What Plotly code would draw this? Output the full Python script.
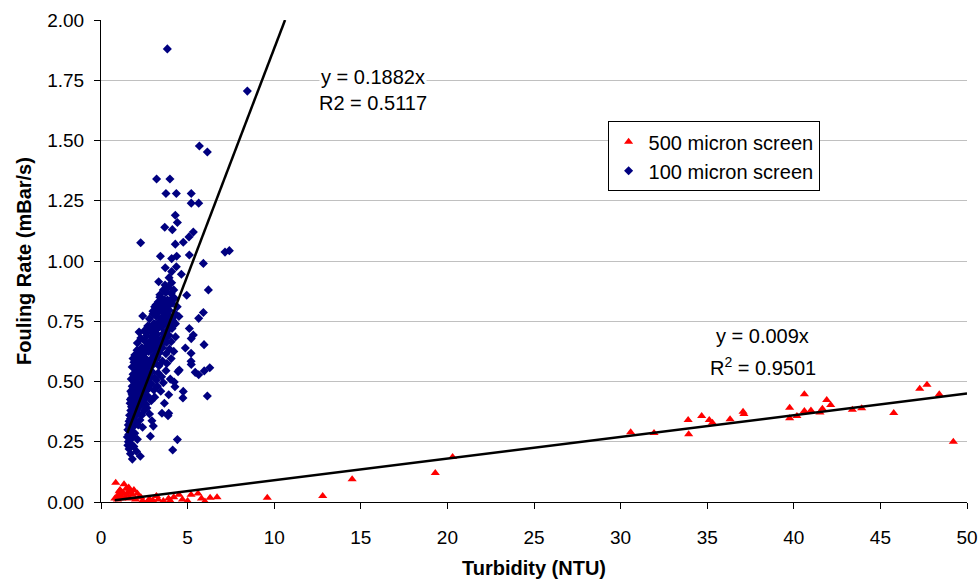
import plotly.graph_objects as go

# ---------------- data ----------------
# 100 micron screen: dense cluster
blue_x = [
    1.62, 1.75, 1.58, 1.90, 2.05, 1.70, 1.55,
    1.52, 1.60, 1.68, 1.78, 1.85, 1.55, 1.95, 2.10, 1.65, 1.72,
    1.58, 1.66, 1.74, 1.82, 1.90, 2.00, 2.15, 1.70, 2.25, 2.40, 1.62,
    1.65, 1.72, 1.80, 1.88, 1.95, 2.05, 2.12, 2.22, 2.35, 2.50, 2.65, 1.76, 2.00, 2.80,
    1.68, 1.75, 1.85, 1.92, 2.00, 2.10, 2.20, 2.30, 2.42, 2.55, 2.70, 2.90, 3.10, 1.80, 2.60, 2.05,
    1.72, 1.80, 1.88, 1.96, 2.05, 2.15, 2.25, 2.35, 2.48, 2.60, 2.75, 2.90, 3.05, 3.25, 3.45, 1.90, 2.40, 3.60,
    1.75, 1.85, 1.95, 2.05, 2.15, 2.25, 2.35, 2.45, 2.55, 2.68, 2.80, 2.95, 3.10, 3.30, 3.50, 3.75, 4.00, 2.00, 2.60, 3.20,
    1.80, 1.90, 2.02, 2.12, 2.22, 2.32, 2.45, 2.58, 2.70, 2.85, 3.00, 3.15, 3.35, 3.55, 3.80, 4.05, 2.40, 3.00, 1.85,
    1.95, 2.08, 2.20, 2.35, 2.48, 2.60, 2.75, 2.90, 3.05, 3.20, 3.38, 3.55, 3.75, 3.95, 4.20, 2.70, 3.30,
    2.10, 2.30, 2.50, 2.65, 2.80, 2.95, 3.10, 3.25, 3.40, 3.55, 3.70, 3.88, 4.05, 4.30, 3.00, 3.60,
    2.50, 2.70, 2.90, 3.05, 3.20, 3.35, 3.50, 3.65, 3.80, 3.95, 4.10, 4.30, 3.40, 2.20,
    2.80, 3.00, 3.20, 3.35, 3.50, 3.65, 3.80, 3.95, 4.10, 4.30, 4.50, 3.60,
    3.10, 3.30, 3.50, 3.65, 3.80, 3.95, 4.10, 4.25, 3.40, 4.40,
    3.40, 3.60, 3.75, 3.90, 4.05, 4.20, 3.70,
    # extra fill of the densest part of the cloud
    1.70, 1.78, 1.86, 1.94, 2.02, 2.10, 2.18, 2.28, 2.38, 2.52, 2.62, 2.76,
    1.92, 2.04, 2.16, 2.26, 2.38, 2.50, 2.62, 2.74, 2.86, 2.98, 3.12, 3.26,
    2.24, 2.40, 2.55, 2.72, 2.88, 3.02, 3.18, 3.32, 3.46, 3.62, 3.78, 3.92,
    2.60, 2.78, 2.95, 3.12, 3.28, 3.44, 3.58, 3.72, 3.86, 4.00, 4.15,
    3.00, 3.18, 3.34, 3.52, 3.70, 3.84, 4.00, 4.18,
    # scattered points around the cluster
    3.83, 8.45, 5.68, 6.14, 3.21, 3.98, 3.75, 4.35, 5.21, 5.21, 5.64, 4.29, 4.41, 3.68,
    4.12, 2.29, 5.33, 5.08, 4.75, 4.29, 3.43, 4.08, 4.37, 5.10, 7.16, 7.41, 5.91, 3.71,
    4.08, 4.35, 3.93, 4.64, 3.33, 4.08, 6.20, 4.95, 5.91, 5.64, 2.41, 5.95, 6.28, 5.96,
    6.14, 4.75, 4.73, 2.85, 2.27, 4.41, 4.14, 1.81, 5.10, 5.21, 5.33, 4.87, 5.20, 5.20,
    5.21, 5.44, 5.64, 4.52, 4.45, 4.23, 4.27, 3.91, 3.91, 3.66, 3.52, 3.87, 3.02, 2.94,
]
blue_y = [
    0.220, 0.240, 0.250, 0.230, 0.210, 0.200, 0.235,
    0.270, 0.280, 0.260, 0.290, 0.270, 0.300, 0.285, 0.260, 0.295, 0.275,
    0.320, 0.310, 0.330, 0.340, 0.315, 0.335, 0.320, 0.345, 0.340, 0.310, 0.335,
    0.360, 0.380, 0.370, 0.390, 0.355, 0.385, 0.370, 0.395, 0.360, 0.380, 0.390, 0.395, 0.400, 0.365,
    0.410, 0.430, 0.420, 0.440, 0.415, 0.435, 0.425, 0.445, 0.410, 0.430, 0.440, 0.420, 0.435, 0.445, 0.405, 0.450,
    0.460, 0.480, 0.470, 0.490, 0.465, 0.485, 0.475, 0.495, 0.460, 0.480, 0.470, 0.490, 0.465, 0.480, 0.460, 0.500, 0.455, 0.495,
    0.510, 0.530, 0.520, 0.540, 0.515, 0.535, 0.525, 0.545, 0.510, 0.530, 0.520, 0.540, 0.515, 0.535, 0.520, 0.545, 0.510, 0.550, 0.548, 0.505,
    0.560, 0.580, 0.570, 0.590, 0.565, 0.585, 0.575, 0.595, 0.560, 0.580, 0.570, 0.590, 0.565, 0.585, 0.575, 0.595, 0.600, 0.600, 0.595,
    0.610, 0.630, 0.620, 0.640, 0.615, 0.635, 0.625, 0.645, 0.610, 0.630, 0.620, 0.640, 0.615, 0.635, 0.625, 0.650, 0.648,
    0.660, 0.680, 0.670, 0.690, 0.665, 0.685, 0.675, 0.695, 0.660, 0.680, 0.670, 0.690, 0.665, 0.685, 0.700, 0.700,
    0.710, 0.730, 0.720, 0.740, 0.715, 0.735, 0.725, 0.745, 0.710, 0.730, 0.720, 0.740, 0.750, 0.705,
    0.760, 0.780, 0.770, 0.790, 0.765, 0.785, 0.775, 0.795, 0.760, 0.780, 0.770, 0.800,
    0.810, 0.830, 0.820, 0.840, 0.815, 0.835, 0.825, 0.845, 0.850, 0.810,
    0.860, 0.880, 0.870, 0.890, 0.865, 0.880, 0.900,
    0.425, 0.452, 0.438, 0.468, 0.448, 0.478, 0.458, 0.488, 0.472, 0.502, 0.492, 0.512,
    0.528, 0.552, 0.538, 0.562, 0.548, 0.572, 0.558, 0.582, 0.568, 0.592, 0.578, 0.602,
    0.612, 0.638, 0.622, 0.652, 0.632, 0.662, 0.642, 0.672, 0.652, 0.682, 0.662, 0.692,
    0.702, 0.728, 0.712, 0.738, 0.722, 0.748, 0.732, 0.758, 0.742, 0.768, 0.752,
    0.792, 0.818, 0.802, 0.828, 0.812, 0.838, 0.822, 0.848,
    1.880, 1.705, 1.477, 1.452, 1.340, 1.340, 1.280, 1.280, 1.280, 1.240, 1.240, 1.190, 1.160, 1.140,
    1.130, 1.076, 1.120, 1.100, 1.078, 1.070, 1.020, 1.010, 1.020, 1.025, 1.037, 1.043, 0.990, 0.972,
    0.956, 0.976, 0.931, 0.945, 0.914, 0.910, 0.880, 0.858, 0.786, 0.762, 0.772, 0.653, 0.557, 0.544,
    0.440, 0.459, 0.432, 0.273, 0.190, 0.259, 0.216, 0.178, 0.720, 0.678, 0.693, 0.639, 0.617, 0.584,
    0.571, 0.538, 0.528, 0.548, 0.541, 0.498, 0.478, 0.445, 0.368, 0.410, 0.368, 0.358, 0.315, 0.337,
]

# 500 micron screen
red_x = [
    0.85, 1.33, 1.10, 1.60, 1.20, 1.45, 1.70, 1.90, 0.90, 1.00, 1.15, 1.30, 1.50, 1.80,
    2.10, 2.30, 0.95, 1.20, 1.40, 1.65, 2.00, 2.40, 2.70, 3.00, 2.80, 3.30, 3.60, 3.90,
    4.20, 4.00, 4.50, 4.70, 5.00, 5.20, 5.60, 5.80, 6.00, 6.30, 6.70, 3.20, 1.05, 1.55,
    2.20, 0.80,
    9.60, 12.8, 14.5, 19.3, 20.3,
    30.58, 31.93, 33.90, 33.93, 34.68, 35.12, 35.30, 36.32, 37.07, 37.12, 39.76, 39.76,
    40.18, 40.61, 40.61, 40.99, 41.51, 41.65, 41.90, 42.13, 43.38, 43.92, 45.77, 47.27,
    47.69, 48.40, 49.21,
]
red_y = [
    0.080, 0.074, 0.050, 0.060, 0.040, 0.055, 0.045, 0.050, 0.020, 0.030, 0.025, 0.035, 0.030, 0.030,
    0.035, 0.020, 0.010, 0.015, 0.020, 0.015, 0.010, 0.005, 0.003, 0.006, 0.012, 0.010, 0.004, 0.015,
    0.020, 0.005, 0.030, 0.010, 0.004, 0.030, 0.035, 0.015, 0.002, 0.018, 0.020, 0.025, 0.045, 0.040,
    0.020, 0.015,
    0.018, 0.025, 0.094, 0.120, 0.187,
    0.289, 0.286, 0.340, 0.281, 0.357, 0.340, 0.329, 0.343, 0.375, 0.365, 0.391, 0.347,
    0.357, 0.447, 0.378, 0.380, 0.371, 0.387, 0.423, 0.402, 0.383, 0.389, 0.369, 0.470,
    0.487, 0.447, 0.250,
]

# trend lines (through origin)
blue_slope = 0.1882
red_slope = 0.009
blue_r2_label = "R2 = 0.5117"
red_r2_label = "R<sup>2</sup> = 0.9501"
x_ticks = [0, 5, 10, 15, 20, 25, 30, 35, 40, 45, 50]
y_ticks = [0.0, 0.25, 0.5, 0.75, 1.0, 1.25, 1.5, 1.75, 2.0]

# ---------------- figure ----------------
FONT = "Liberation Sans, Arial, Helvetica, sans-serif"

blue_line_x = [min(blue_x), 2.0 / blue_slope]
blue_line_y = [blue_slope * v for v in blue_line_x]
red_line_x = [min(red_x), 50]
red_line_y = [red_slope * v for v in red_line_x]

fig = go.Figure()
fig.add_trace(go.Scatter(
    x=red_x, y=red_y, mode="markers", name="500 micron screen",
    marker=dict(symbol="triangle-up", size=8, color="#ff0000", line=dict(width=0)),
))
fig.add_trace(go.Scatter(
    x=blue_x, y=blue_y, mode="markers", name="100 micron screen",
    marker=dict(symbol="diamond", size=7, color="#000080", line=dict(width=0)),
))
fig.add_trace(go.Scatter(
    x=blue_line_x, y=blue_line_y, mode="lines", showlegend=False,
    line=dict(color="black", width=2.5),
))
fig.add_trace(go.Scatter(
    x=red_line_x, y=red_line_y, mode="lines", showlegend=False,
    line=dict(color="black", width=2.5),
))

ann_font = dict(family=FONT, size=20, color="black")
fig.add_annotation(x=15.7, y=1.763, text=f"y = {blue_slope}x", showarrow=False,
                   font=ann_font, bgcolor="white", borderpad=1)
fig.add_annotation(x=15.7, y=1.656, text=blue_r2_label, showarrow=False,
                   font=ann_font, bgcolor="white", borderpad=1)
fig.add_annotation(x=38.2, y=0.689, text=f"y = {red_slope}x", showarrow=False,
                   font=ann_font, bgcolor="white", borderpad=1)
fig.add_annotation(x=38.2, y=0.564, text=red_r2_label, showarrow=False,
                   font=ann_font, bgcolor="white", borderpad=1)

fig.update_layout(
    width=980, height=585,
    margin=dict(l=101, r=13, t=20, b=83),
    paper_bgcolor="white", plot_bgcolor="white",
    font=dict(family=FONT, size=20, color="black"),
    showlegend=True,
    legend=dict(
        x=0.585, y=0.79, xanchor="left", yanchor="top",
        bgcolor="white", bordercolor="black", borderwidth=1,
        font=dict(family=FONT, size=20, color="black"),
        itemsizing="trace", tracegroupgap=0,
    ),
    xaxis=dict(
        range=[0, 50], tickvals=x_ticks, ticktext=[str(v) for v in x_ticks],
        showgrid=False, zeroline=False, automargin=False,
        showline=True, linecolor="black", linewidth=1,
        ticks="outside", ticklen=6, tickcolor="black",
        tickfont=dict(family=FONT, size=19),
        ticklabelstandoff=12,
        title=dict(text="<b>Turbidity (NTU)</b>", font=dict(family=FONT, size=20), standoff=14),
    ),
    yaxis=dict(
        range=[0, 2.0], tickvals=y_ticks, ticktext=[f"{v:.2f}" for v in y_ticks],
        showgrid=True, gridcolor="#c0c0c0", gridwidth=1, zeroline=False, automargin=False,
        showline=True, linecolor="black", linewidth=1,
        ticks="outside", ticklen=6, tickcolor="black",
        tickfont=dict(family=FONT, size=19),
        ticklabelstandoff=6,
        title=dict(text="<b>Fouling Rate (mBar/s)</b>", font=dict(family=FONT, size=20), standoff=10),
    ),
)

fig.write_html("out.html")
